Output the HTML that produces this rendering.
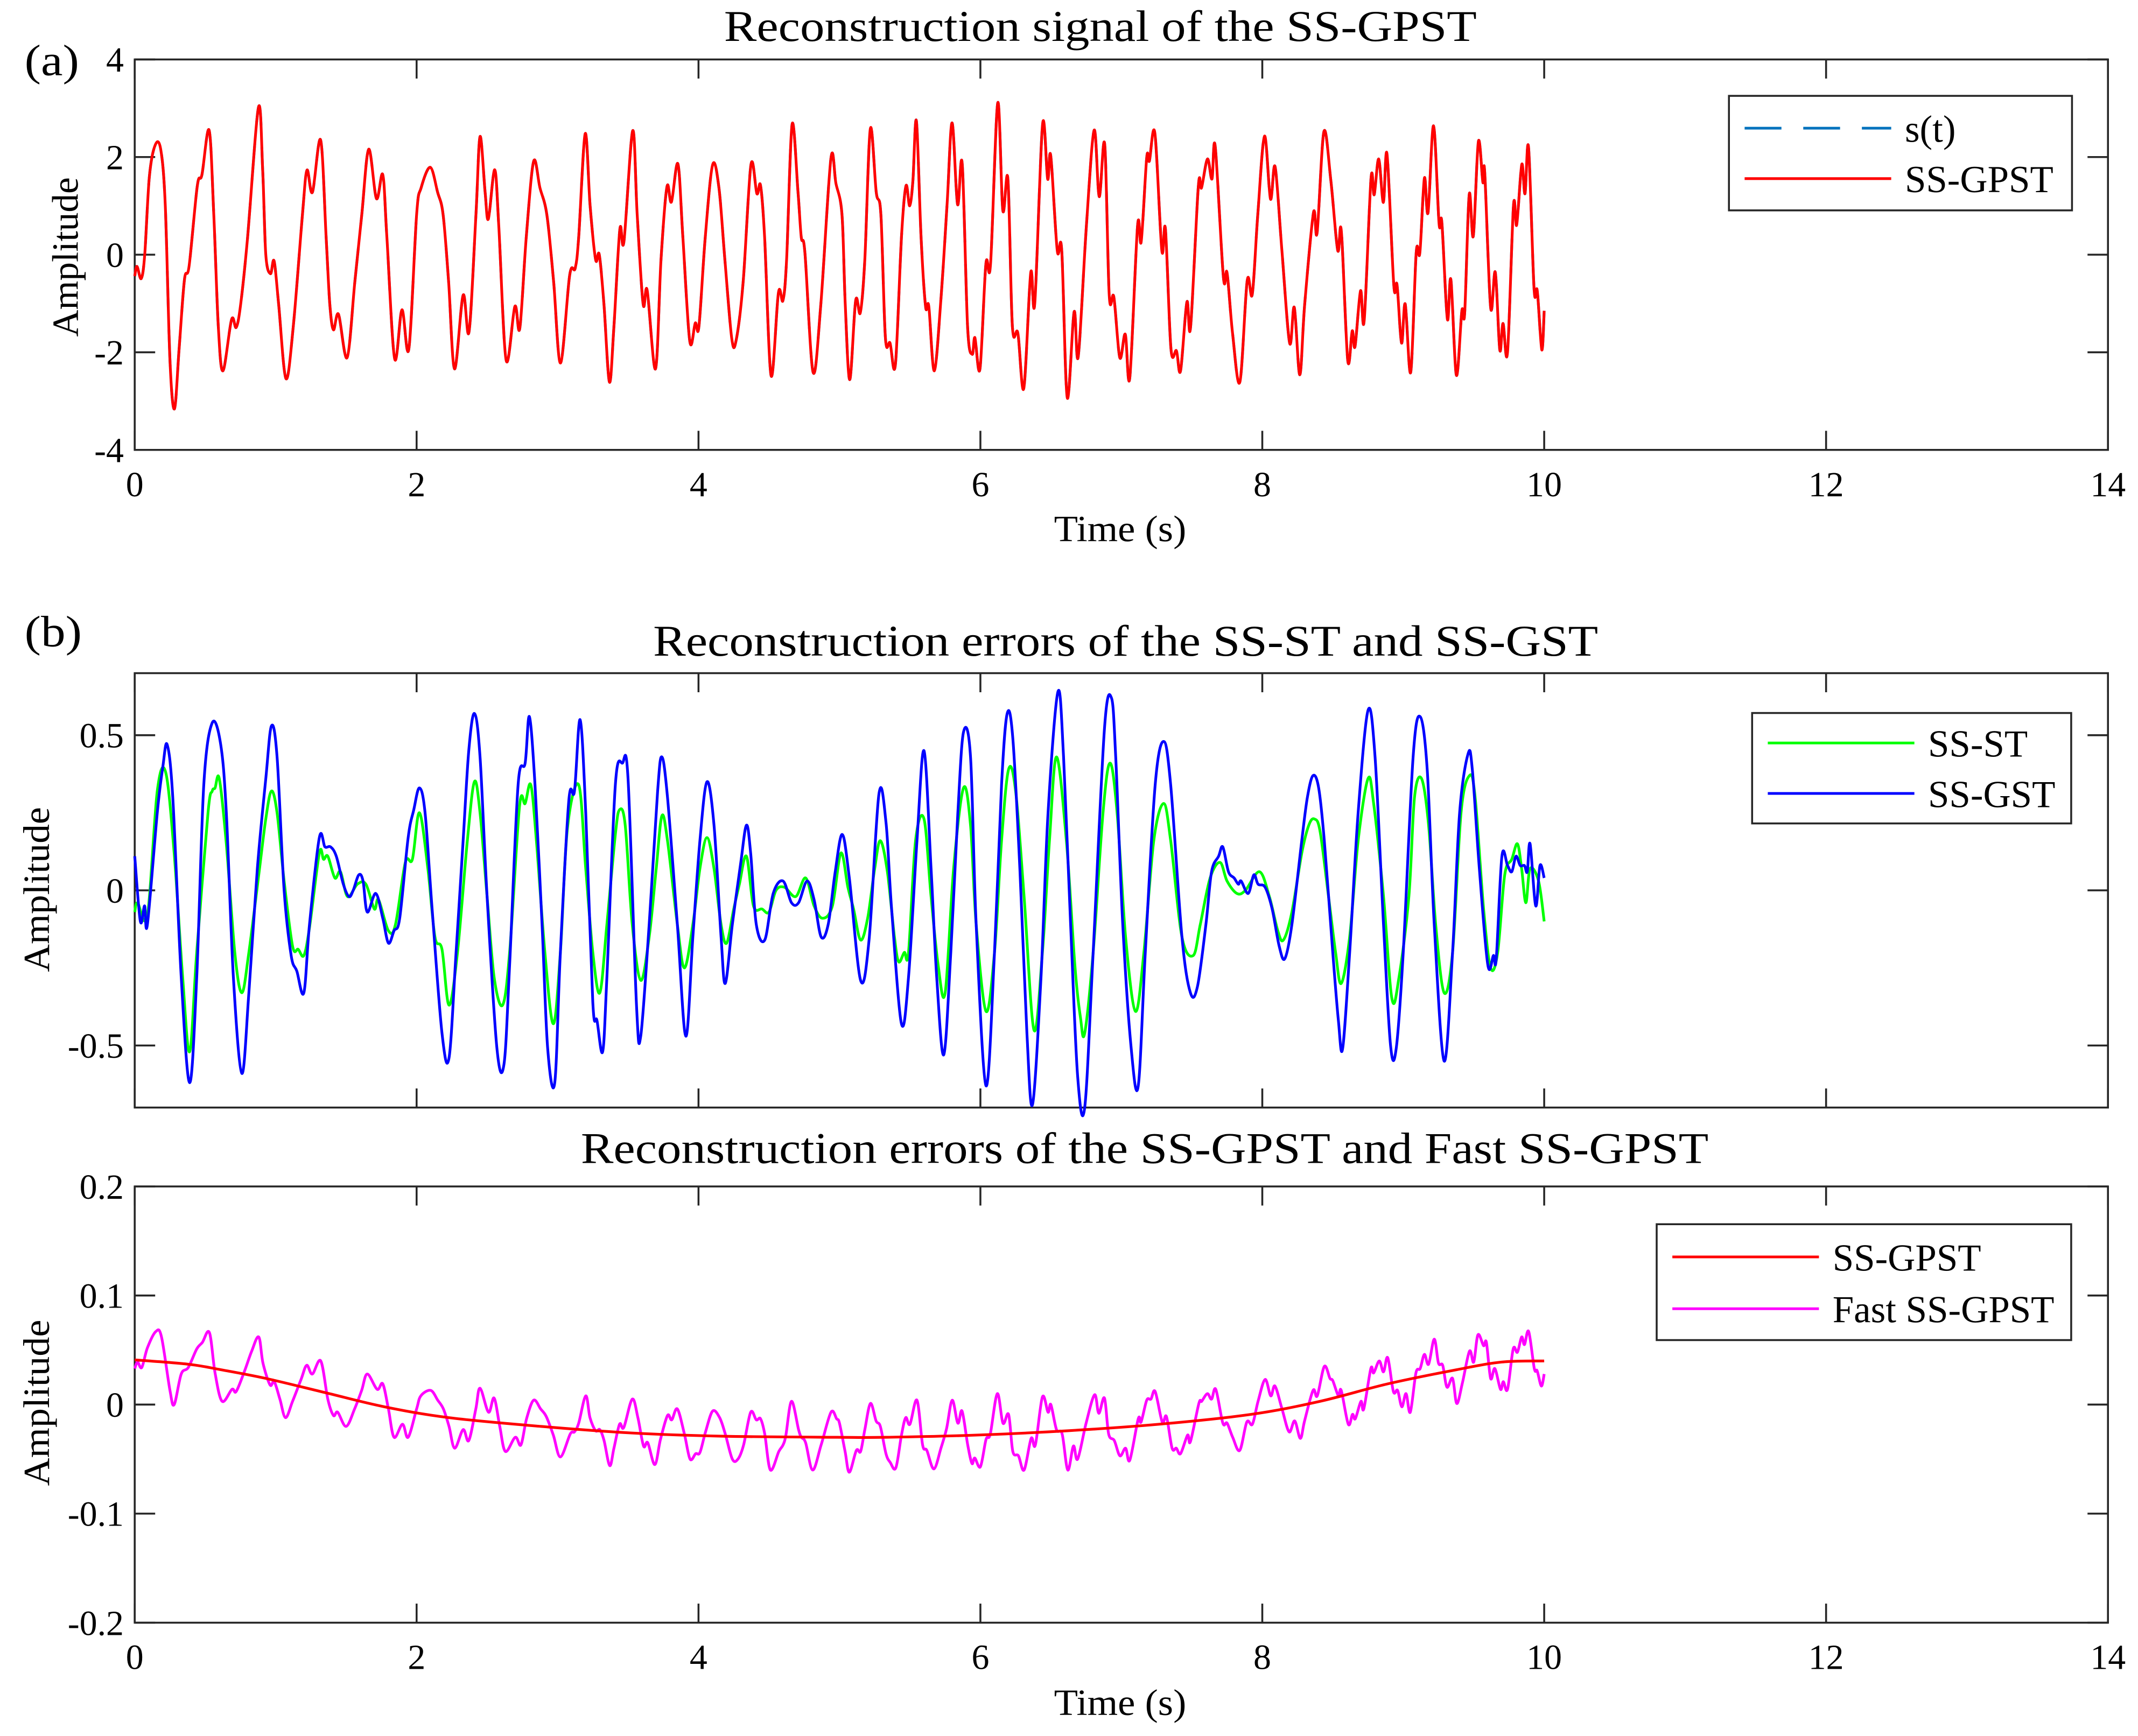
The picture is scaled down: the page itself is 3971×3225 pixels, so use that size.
<!DOCTYPE html>
<html><head><meta charset="utf-8"><title>Reconstruction errors</title>
<style>
html,body{margin:0;padding:0;background:#fff;}
svg{display:block;}
text{font-family:"Liberation Serif","DejaVu Serif",serif;fill:#000;}
</style></head>
<body>
<svg id="fig" xmlns="http://www.w3.org/2000/svg" width="3971" height="3225" viewBox="0 0 1568 1273.4">
<rect x="0" y="0" width="1568" height="1273.4" fill="#fff"/>
<text x="18" y="55" font-size="32" textLength="40" lengthAdjust="spacingAndGlyphs">(a)</text>
<text x="531" y="30" font-size="32" textLength="552" lengthAdjust="spacingAndGlyphs">Reconstruction signal of the SS-GPST</text>
<text x="773" y="397" font-size="27" textLength="97" lengthAdjust="spacingAndGlyphs">Time (s)</text>
<text transform="translate(57,247) rotate(-90)" font-size="27" textLength="117" lengthAdjust="spacingAndGlyphs">Amplitude</text>
<text x="18" y="474" font-size="32" textLength="42" lengthAdjust="spacingAndGlyphs">(b)</text>
<text x="479" y="481" font-size="32" textLength="693" lengthAdjust="spacingAndGlyphs">Reconstruction errors of the SS-ST and SS-GST</text>
<text transform="translate(36,713) rotate(-90)" font-size="27" textLength="121" lengthAdjust="spacingAndGlyphs">Amplitude</text>
<text x="426" y="853" font-size="32" textLength="827" lengthAdjust="spacingAndGlyphs">Reconstruction errors of the SS-GPST and Fast SS-GPST</text>
<text transform="translate(36,1090) rotate(-90)" font-size="27" textLength="122" lengthAdjust="spacingAndGlyphs">Amplitude</text>
<text x="773" y="1258" font-size="27" textLength="97" lengthAdjust="spacingAndGlyphs">Time (s)</text>
<g id="plots"></g>
</svg>
<script>
// ---------- data ----------
const xTickVals = [0,2,4,6,8,10,12,14];
const xTickLabels = ["0","2","4","6","8","10","12","14"];
const aTickVals = [-4,-2,0,2,4];
const aTickLabels = ["-4","-2","0","2","4"];
const b1TickVals = [-0.5,0,0.5];
const b1TickLabels = ["-0.5","0","0.5"];
const b2TickVals = [-0.2,-0.1,0,0.1,0.2];
const b2TickLabels = ["-0.2","-0.1","0","0.1","0.2"];

const sigT = [0.00,0.016,0.046,0.071,0.104,0.146,0.185,0.217,0.250,0.282,0.315,0.353,0.386,0.444,0.477,0.528,0.561,0.593,0.626,0.687,0.720,0.752,0.801,0.878,0.908,0.930,0.963,0.989,1.021,1.073,1.125,1.190,1.222,1.261,1.319,1.358,1.384,1.410,1.446,1.507,1.562,1.611,1.660,1.715,1.760,1.789,1.844,1.896,1.945,2.000,2.032,2.097,2.149,2.188,2.227,2.269,2.330,2.372,2.421,2.450,2.486,2.509,2.554,2.583,2.635,2.697,2.732,2.778,2.830,2.875,2.924,2.972,3.021,3.086,3.125,3.150,3.196,3.231,3.270,3.296,3.329,3.368,3.400,3.442,3.471,3.533,3.565,3.607,3.636,3.695,3.734,3.776,3.808,3.854,3.889,3.938,3.977,4.003,4.048,4.100,4.145,4.187,4.236,4.268,4.317,4.372,4.414,4.440,4.469,4.515,4.567,4.599,4.625,4.664,4.706,4.729,4.755,4.813,4.868,4.939,4.975,5.018,5.041,5.073,5.115,5.148,5.180,5.219,5.261,5.294,5.326,5.359,5.397,5.440,5.472,5.498,5.521,5.546,5.579,5.611,5.634,5.673,5.721,5.764,5.799,5.838,5.871,5.909,5.942,5.961,5.997,6.039,6.072,6.123,6.159,6.195,6.227,6.266,6.308,6.357,6.386,6.441,6.477,6.499,6.545,6.577,6.616,6.665,6.694,6.752,6.807,6.843,6.882,6.914,6.947,6.989,7.028,7.060,7.115,7.141,7.180,7.199,7.238,7.287,7.313,7.352,7.391,7.420,7.465,7.491,7.546,7.569,7.611,7.643,7.666,7.724,7.750,7.789,7.841,7.893,7.929,7.968,8.016,8.058,8.091,8.139,8.194,8.227,8.266,8.301,8.363,8.389,8.437,8.486,8.535,8.561,8.606,8.638,8.658,8.697,8.723,8.771,8.794,8.826,8.859,8.885,8.933,8.956,8.988,9.014,9.053,9.092,9.118,9.150,9.176,9.215,9.254,9.274,9.313,9.338,9.377,9.416,9.436,9.468,9.497,9.533,9.565,9.578,9.620,9.653,9.685,9.708,9.740,9.782,9.805,9.841,9.864,9.889,9.928,9.951,9.983,10.0];
const sigV = [-0.44,-0.24,-0.49,0.00,1.60,2.25,2.15,1.00,-2.16,-3.16,-1.93,-0.51,-0.23,1.41,1.64,2.55,0.82,-1.47,-2.38,-1.33,-1.49,-1.01,0.36,3.02,1.73,0.00,-0.39,-0.13,-1.01,-2.54,-1.47,0.82,1.73,1.28,2.35,0.36,-1.01,-1.54,-1.22,-2.11,-0.55,0.82,2.16,1.15,1.64,0.36,-2.13,-1.13,-1.93,0.82,1.37,1.79,1.28,0.82,-0.55,-2.34,-0.83,-1.58,0.82,2.42,1.28,0.73,1.74,0.59,-2.16,-1.06,-1.51,0.36,1.91,1.37,0.82,-0.55,-2.22,-0.42,-0.28,0.36,2.48,1.00,-0.10,0.00,-1.01,-2.61,-1.47,0.52,0.27,2.54,0.82,-1.01,-0.73,-2.34,-0.10,1.39,1.08,1.86,0.36,-1.77,-1.40,-1.47,0.36,1.84,1.37,-0.10,-1.72,-1.74,-0.55,1.84,1.25,1.42,0.36,-2.48,-0.78,-0.94,-0.10,2.67,1.28,0.36,0.04,-2.41,-1.01,1.96,1.46,0.82,-1.01,-2.56,-0.94,-1.19,-0.10,2.58,1.28,0.82,-1.70,-1.81,-2.25,0.36,1.41,1.00,1.51,2.74,0.36,-1.06,-1.06,-2.38,-0.87,1.05,2.70,1.03,1.86,-1.47,-2.04,-1.70,-2.34,-0.19,-0.19,3.11,0.91,1.55,-1.47,-1.61,-2.74,-0.37,-0.99,2.67,1.55,2.03,0.09,0.09,-2.93,-1.17,-2.09,0.59,2.55,1.19,2.26,-0.83,-0.87,-2.11,-1.63,-2.52,0.59,0.27,1.99,1.92,2.49,0.09,0.52,-1.93,-1.97,-2.38,-0.97,-1.49,1.39,1.37,1.96,1.55,2.22,-0.46,-0.37,-1.61,-2.61,-0.53,-0.81,0.82,2.43,1.14,1.80,0.09,-1.81,-1.08,-2.46,-1.01,0.86,0.45,2.52,1.53,0.09,0.48,-2.16,-1.56,-1.88,-0.74,-1.35,1.55,1.23,1.96,1.07,2.06,-0.62,-0.62,-1.81,-1.01,-2.41,0.04,0.04,1.57,0.86,2.64,0.64,0.66,-1.32,-0.51,-2.47,-1.15,-1.19,1.23,0.38,2.32,1.48,1.69,-1.08,-0.36,-1.95,-1.41,-2.00,1.00,0.61,1.85,1.25,2.20,-0.69,-0.74,-1.95,-1.15];

const gstT = [0.00,0.04,0.07,0.09,0.16,0.20,0.23,0.27,0.33,0.39,0.44,0.49,0.55,0.61,0.65,0.70,0.76,0.81,0.87,0.93,0.97,1.01,1.06,1.11,1.15,1.20,1.24,1.31,1.35,1.39,1.43,1.48,1.52,1.55,1.59,1.62,1.65,1.71,1.76,1.80,1.84,1.88,1.94,1.98,2.02,2.06,2.11,2.18,2.23,2.28,2.33,2.37,2.41,2.45,2.50,2.57,2.62,2.66,2.72,2.77,2.80,2.84,2.89,2.93,2.98,3.02,3.08,3.12,3.16,3.20,3.25,3.28,3.32,3.35,3.41,3.46,3.50,3.56,3.59,3.65,3.71,3.74,3.78,3.85,3.91,3.96,4.01,4.06,4.11,4.16,4.19,4.24,4.30,4.34,4.37,4.41,4.47,4.53,4.60,4.66,4.71,4.77,4.82,4.87,4.92,4.97,5.02,5.07,5.15,5.21,5.28,5.33,5.37,5.44,5.49,5.55,5.60,5.65,5.69,5.74,5.79,5.84,5.88,5.93,5.97,6.04,6.10,6.15,6.19,6.23,6.28,6.33,6.37,6.43,6.48,6.55,6.59,6.64,6.69,6.74,6.80,6.88,6.93,6.96,7.01,7.07,7.12,7.17,7.24,7.30,7.35,7.43,7.49,7.54,7.60,7.64,7.69,7.72,7.76,7.80,7.83,7.85,7.90,7.94,7.97,8.02,8.07,8.12,8.16,8.21,8.28,8.32,8.36,8.40,8.44,8.50,8.54,8.57,8.62,8.68,8.75,8.80,8.86,8.91,8.95,9.00,9.07,9.12,9.17,9.22,9.29,9.35,9.40,9.46,9.49,9.54,9.60,9.64,9.66,9.70,9.74,9.77,9.80,9.83,9.86,9.88,9.90,9.94,9.97,10.0];
const gstV = [0.11,-0.10,-0.05,-0.11,0.25,0.40,0.47,0.30,-0.28,-0.62,-0.28,0.34,0.54,0.47,0.25,-0.28,-0.59,-0.33,0.07,0.36,0.53,0.43,0.00,-0.21,-0.26,-0.33,-0.11,0.17,0.14,0.14,0.11,0.02,-0.02,0.00,0.05,0.03,-0.07,-0.01,-0.09,-0.17,-0.13,-0.09,0.17,0.26,0.33,0.25,-0.06,-0.46,-0.54,-0.20,0.16,0.45,0.57,0.43,-0.02,-0.51,-0.56,-0.24,0.34,0.41,0.56,0.34,-0.11,-0.51,-0.62,-0.20,0.29,0.32,0.55,0.25,-0.36,-0.42,-0.52,-0.28,0.34,0.41,0.36,-0.37,-0.47,-0.11,0.32,0.43,0.30,-0.11,-0.47,-0.15,0.16,0.35,0.21,-0.15,-0.30,-0.11,0.09,0.21,0.12,-0.11,-0.16,-0.01,0.03,-0.04,-0.04,0.03,-0.03,-0.15,-0.11,0.06,0.18,0.04,-0.29,-0.16,0.31,0.22,-0.06,-0.43,-0.28,0.16,0.45,0.07,-0.28,-0.53,-0.20,0.25,0.51,0.43,-0.11,-0.63,-0.20,0.34,0.57,0.49,0.07,-0.46,-0.69,-0.28,0.25,0.64,0.43,-0.11,-0.60,-0.70,-0.20,0.52,0.62,0.43,-0.11,-0.51,-0.63,-0.20,0.34,0.48,0.34,-0.15,-0.33,-0.31,-0.11,0.06,0.11,0.14,0.06,0.04,0.02,0.03,-0.01,0.05,0.02,0.01,-0.06,-0.18,-0.22,-0.11,0.16,0.30,0.37,0.33,0.16,-0.20,-0.42,-0.51,-0.20,0.25,0.58,0.43,-0.11,-0.50,-0.51,-0.20,0.43,0.56,0.39,-0.11,-0.55,-0.20,0.25,0.44,0.39,0.07,-0.24,-0.21,-0.22,0.11,0.08,0.06,0.11,0.08,0.08,0.06,0.15,-0.05,0.08,0.04];

const stT = [0.00,0.02,0.09,0.16,0.22,0.28,0.34,0.39,0.44,0.52,0.55,0.57,0.60,0.65,0.71,0.76,0.81,0.88,0.93,0.97,1.01,1.06,1.12,1.16,1.20,1.24,1.31,1.34,1.37,1.42,1.46,1.51,1.58,1.64,1.70,1.73,1.80,1.85,1.92,1.97,2.02,2.08,2.13,2.18,2.23,2.29,2.36,2.41,2.45,2.50,2.55,2.61,2.66,2.73,2.77,2.81,2.85,2.91,2.97,3.02,3.07,3.15,3.20,3.25,3.30,3.35,3.41,3.44,3.48,3.53,3.59,3.65,3.70,3.74,3.78,3.85,3.90,3.96,4.01,4.06,4.11,4.16,4.20,4.25,4.29,4.34,4.39,4.45,4.50,4.55,4.61,4.69,4.76,4.82,4.88,4.95,5.01,5.06,5.10,5.15,5.20,5.25,5.29,5.34,5.39,5.42,5.46,5.49,5.54,5.60,5.65,5.70,5.75,5.81,5.88,5.93,5.97,6.04,6.10,6.15,6.20,6.25,6.31,6.38,6.44,6.49,6.54,6.61,6.67,6.71,6.74,6.80,6.87,6.92,6.97,7.03,7.10,7.16,7.23,7.30,7.35,7.43,7.51,7.56,7.63,7.70,7.75,7.82,7.88,7.98,8.05,8.11,8.15,8.21,8.28,8.33,8.37,8.41,8.47,8.52,8.56,8.62,8.68,8.75,8.79,8.86,8.92,8.97,9.04,9.08,9.13,9.18,9.23,9.29,9.35,9.41,9.47,9.51,9.57,9.62,9.67,9.72,9.77,9.81,9.84,9.87,9.90,9.96,10.0];
const stV = [-0.07,-0.04,-0.08,0.32,0.38,0.12,-0.28,-0.52,-0.20,0.25,0.32,0.33,0.36,0.15,-0.20,-0.33,-0.20,0.05,0.23,0.32,0.25,0.03,-0.18,-0.19,-0.21,-0.12,0.12,0.10,0.11,0.04,0.06,-0.02,0.02,0.02,-0.06,-0.03,-0.13,-0.11,0.09,0.10,0.25,0.07,-0.15,-0.19,-0.37,-0.20,0.16,0.35,0.25,-0.02,-0.28,-0.37,-0.20,0.27,0.28,0.34,0.16,-0.20,-0.43,-0.20,0.20,0.34,0.07,-0.20,-0.33,-0.11,0.18,0.26,0.21,-0.11,-0.29,-0.15,0.07,0.24,0.16,-0.11,-0.25,-0.11,0.07,0.17,0.07,-0.11,-0.17,-0.06,0.02,0.11,-0.05,-0.06,-0.07,0.00,0.01,-0.02,0.04,-0.05,-0.09,-0.05,0.12,0.01,-0.06,-0.16,-0.09,0.07,0.16,0.06,-0.15,-0.23,-0.20,-0.20,0.16,0.23,-0.02,-0.24,-0.33,0.07,0.33,0.21,-0.11,-0.39,-0.20,0.16,0.39,0.32,-0.02,-0.45,-0.20,0.16,0.43,0.16,-0.24,-0.41,-0.46,-0.20,0.25,0.41,0.25,-0.15,-0.39,-0.20,0.16,0.28,0.16,-0.15,-0.21,-0.11,0.04,0.09,0.03,-0.01,0.00,0.06,-0.02,-0.13,-0.16,-0.07,0.12,0.21,0.23,0.19,-0.02,-0.20,-0.30,-0.15,0.16,0.36,0.28,-0.02,-0.35,-0.28,-0.02,0.30,0.36,0.21,-0.11,-0.33,-0.20,0.25,0.37,0.30,-0.06,-0.25,-0.20,0.05,0.10,0.15,0.07,-0.04,0.07,0.03,-0.10];

const fastT = [0.00,0.02,0.05,0.09,0.15,0.19,0.25,0.28,0.33,0.38,0.44,0.48,0.53,0.57,0.62,0.69,0.72,0.78,0.83,0.88,0.91,0.96,0.99,1.03,1.07,1.12,1.18,1.22,1.26,1.32,1.37,1.41,1.44,1.50,1.56,1.61,1.65,1.72,1.76,1.80,1.84,1.90,1.94,2.00,2.03,2.10,2.15,2.19,2.23,2.27,2.33,2.37,2.42,2.45,2.51,2.55,2.59,2.63,2.70,2.74,2.78,2.83,2.88,2.92,2.97,3.02,3.09,3.12,3.15,3.20,3.23,3.27,3.30,3.33,3.37,3.40,3.44,3.47,3.53,3.57,3.61,3.64,3.69,3.73,3.78,3.81,3.85,3.90,3.94,3.98,4.01,4.05,4.10,4.15,4.19,4.24,4.28,4.32,4.37,4.41,4.44,4.47,4.51,4.57,4.60,4.62,4.66,4.71,4.73,4.76,4.81,4.87,4.94,4.98,5.00,5.04,5.07,5.12,5.15,5.18,5.22,5.26,5.29,5.33,5.36,5.40,5.44,5.47,5.50,5.55,5.59,5.62,5.67,5.72,5.76,5.80,5.84,5.87,5.91,5.94,5.96,6.00,6.04,6.07,6.12,6.16,6.20,6.23,6.27,6.31,6.36,6.39,6.44,6.48,6.50,6.54,6.58,6.62,6.66,6.69,6.75,6.81,6.84,6.88,6.91,6.95,6.99,7.03,7.06,7.12,7.14,7.18,7.21,7.24,7.29,7.32,7.36,7.39,7.42,7.47,7.49,7.55,7.57,7.61,7.64,7.67,7.72,7.75,7.79,7.84,7.89,7.93,7.97,8.02,8.06,8.09,8.14,8.19,8.23,8.27,8.30,8.36,8.39,8.44,8.48,8.50,8.54,8.56,8.61,8.64,8.66,8.70,8.72,8.77,8.79,8.83,8.86,8.89,8.93,8.96,8.99,9.02,9.05,9.09,9.12,9.15,9.18,9.22,9.25,9.28,9.31,9.35,9.38,9.42,9.47,9.50,9.53,9.57,9.59,9.62,9.65,9.69,9.71,9.74,9.78,9.81,9.84,9.86,9.89,9.93,9.95,9.98,10.0];
const fastV = [0.033,0.039,0.034,0.052,0.067,0.062,0.013,0.000,0.028,0.034,0.051,0.057,0.066,0.029,0.003,0.014,0.012,0.031,0.049,0.062,0.038,0.018,0.021,0.005,-0.012,0.003,0.023,0.036,0.028,0.040,0.005,-0.010,-0.007,-0.020,-0.004,0.013,0.028,0.014,0.019,-0.004,-0.030,-0.018,-0.030,-0.004,0.008,0.013,0.004,-0.004,-0.020,-0.040,-0.023,-0.033,-0.004,0.015,-0.007,0.006,-0.020,-0.043,-0.030,-0.037,-0.013,0.004,-0.004,-0.011,-0.028,-0.048,-0.027,-0.025,-0.017,0.008,-0.012,-0.024,-0.023,-0.033,-0.056,-0.040,-0.018,-0.021,0.005,-0.012,-0.038,-0.035,-0.055,-0.032,-0.010,-0.014,-0.004,-0.027,-0.050,-0.045,-0.044,-0.025,-0.006,-0.012,-0.027,-0.050,-0.050,-0.037,-0.007,-0.014,-0.013,-0.027,-0.060,-0.043,-0.037,-0.028,0.003,-0.023,-0.030,-0.035,-0.060,-0.037,-0.007,-0.013,-0.017,-0.043,-0.062,-0.042,-0.043,-0.023,0.001,-0.015,-0.020,-0.045,-0.053,-0.058,-0.028,-0.012,-0.018,0.004,-0.037,-0.042,-0.059,-0.040,-0.022,0.004,-0.017,-0.006,-0.037,-0.054,-0.049,-0.057,-0.032,-0.027,0.010,-0.017,-0.009,-0.043,-0.047,-0.060,-0.031,-0.037,0.007,-0.007,0.000,-0.023,-0.027,-0.060,-0.038,-0.050,-0.017,0.009,-0.008,0.006,-0.027,-0.033,-0.047,-0.040,-0.051,-0.013,-0.016,0.004,0.005,0.012,-0.016,-0.011,-0.040,-0.040,-0.045,-0.028,-0.034,0.001,0.003,0.010,0.005,0.014,-0.017,-0.017,-0.030,-0.042,-0.016,-0.018,0.003,0.023,0.008,0.017,-0.004,-0.025,-0.015,-0.031,-0.015,0.013,0.008,0.035,0.024,0.022,0.008,0.013,-0.018,-0.009,-0.013,0.003,-0.004,0.033,0.029,0.040,0.030,0.043,0.012,0.013,-0.002,0.010,-0.007,0.029,0.033,0.046,0.037,0.060,0.038,0.036,0.016,0.024,0.001,0.020,0.049,0.039,0.064,0.054,0.057,0.024,0.033,0.014,0.021,0.014,0.051,0.048,0.062,0.055,0.067,0.033,0.031,0.017,0.028];

const gpstT = [0.00,0.38,0.61,0.93,1.35,1.77,2.23,2.88,3.52,4.17,4.98,5.33,5.97,6.62,7.27,7.92,8.41,8.89,9.38,9.70,10.0];
const gpstV = [0.041,0.037,0.032,0.024,0.011,-0.002,-0.012,-0.020,-0.026,-0.029,-0.030,-0.030,-0.028,-0.024,-0.018,-0.009,0.003,0.019,0.032,0.039,0.040];

// ---------- axis functions ----------
const X0 = 98.8, XS = 103.37;
function xs(t){ return X0 + t*XS; }
function ya(v){ return 186.8 - v*35.8; }
function yb1(v){ return 653.1 - v*227.6; }
function yb2(v){ return 1030.3 - v*800; }

const NS = "http://www.w3.org/2000/svg";
const root = document.getElementById('plots');
function mk(tag, attrs, parent){
  const e = document.createElementNS(NS, tag);
  for (const k in attrs) e.setAttribute(k, attrs[k]);
  (parent||root).appendChild(e);
  return e;
}
function smoothPath(T, V, ys){
  const P = T.map((t,i)=>[xs(t), ys(V[i])]);
  let d = "M" + P[0][0].toFixed(2) + "," + P[0][1].toFixed(2);
  for (let i=0;i<P.length-1;i++){
    const p0 = P[Math.max(0,i-1)], p1 = P[i], p2 = P[i+1], p3 = P[Math.min(P.length-1,i+2)];
    const c1x = p1[0] + (p2[0]-p0[0])/6, c1y = p1[1] + (p2[1]-p0[1])/6;
    const c2x = p2[0] - (p3[0]-p1[0])/6, c2y = p2[1] - (p3[1]-p1[1])/6;
    d += " C" + c1x.toFixed(2)+","+c1y.toFixed(2)+" "+c2x.toFixed(2)+","+c2y.toFixed(2)+" "+p2[0].toFixed(2)+","+p2[1].toFixed(2);
  }
  return d;
}

function axes(name, ys, top, bottom, yVals, yLabels, showX){
  const g = mk('g', {});
  
  
  const left = xs(0), right = xs(14);
  const box = mk('rect', {x:left, y:top, width:right-left, height:bottom-top, fill:'none', stroke:'#262626', 'stroke-width':1.4}, g);
  
  
  xTickVals.forEach((v,i)=>{
    const x = xs(v);
    const tb = mk('line', {x1:x, x2:x, y1:bottom, y2:bottom-14, stroke:'#262626', 'stroke-width':1.4}, g);
    
    
    const tt = mk('line', {x1:x, x2:x, y1:top, y2:top+14, stroke:'#262626', 'stroke-width':1.4}, g);
    
    
    if (showX){
      const lb = mk('text', {x:x, y:bottom+34, 'font-size':26, 'text-anchor':'middle'}, g);
      lb.textContent = xTickLabels[i];
      
      
    }
  });
  yVals.forEach((v,i)=>{
    const y = ys(v);
    const tl = mk('line', {x1:left, x2:left+15, y1:y, y2:y, stroke:'#262626', 'stroke-width':1.4}, g);
    
    
    const tr = mk('line', {x1:right, x2:right-15, y1:y, y2:y, stroke:'#262626', 'stroke-width':1.4}, g);
    
    
    const lb = mk('text', {x:left-8, y:y+9, 'font-size':26, 'text-anchor':'end'}, g);
    lb.textContent = yLabels[i];
    
    
  });
}

function series(name, T, V, ys, color, dash){
  const attrs = {d:smoothPath(T,V,ys), fill:'none', stroke:color, 'stroke-width':2, 'stroke-linejoin':'round'};
  if (dash) attrs['stroke-dasharray'] = dash;
  const p = mk('path', attrs);
  
  
}

function legend(name, x, y, w, h, entries){
  const g = mk('g', {});
  
  
  const r = mk('rect', {x:x, y:y, width:w, height:h, fill:'#fff', stroke:'#262626', 'stroke-width':1.4}, g);
  
  
  entries.forEach((e,i)=>{
    const yy = y + e.dy;
    const ln = mk('line', {x1:x+11.5, x2:x+119, y1:yy, y2:yy, stroke:e.color, 'stroke-width':2}, g);
    if (e.dash) ln.setAttribute('stroke-dasharray', e.dash);
    
    
    const tx = mk('text', {x:x+129, y:yy+10, 'font-size':28}, g);
    tx.textContent = e.label;
    
    
  });
}

// ---------- panel a ----------
axes('panel-a', ya, ya(4), ya(-4), aTickVals, aTickLabels, true);
series('series-s-t', sigT, sigV, ya, '#0072BD', '27,16');
series('series-ss-gpst-signal', sigT, sigV, ya, '#ff0000', null);
legend('panel-a-legend', 1268, 70.3, 251.6, 84, [
  {key:'s-t', label:'s(t)', color:'#0072BD', dash:'27,16', dy:23.7},
  {key:'ss-gpst', label:'SS-GPST', color:'#ff0000', dash:null, dy:60.7}
]);

// ---------- panel b1 ----------
axes('panel-b1', yb1, yb1(0.7), yb1(-0.7), b1TickVals, b1TickLabels, false);
series('series-ss-st-error', stT, stV, yb1, '#00ff00', null);
series('series-ss-gst-error', gstT, gstV, yb1, '#0000ff', null);
legend('panel-b1-legend', 1285, 523, 234, 81, [
  {key:'ss-st', label:'SS-ST', color:'#00ff00', dash:null, dy:22},
  {key:'ss-gst', label:'SS-GST', color:'#0000ff', dash:null, dy:59}
]);

// ---------- panel b2 ----------
axes('panel-b2', yb2, yb2(0.2), yb2(-0.2), b2TickVals, b2TickLabels, true);
series('series-fast-ss-gpst-error', fastT, fastV, yb2, '#ff00ff', null);
series('series-ss-gpst-error', gpstT, gpstV, yb2, '#ff0000', null);
legend('panel-b2-legend', 1215, 898, 304, 85, [
  {key:'ss-gpst-error', label:'SS-GPST', color:'#ff0000', dash:null, dy:24},
  {key:'fast-ss-gpst', label:'Fast SS-GPST', color:'#ff00ff', dash:null, dy:62}
]);
</script>
</body></html>
